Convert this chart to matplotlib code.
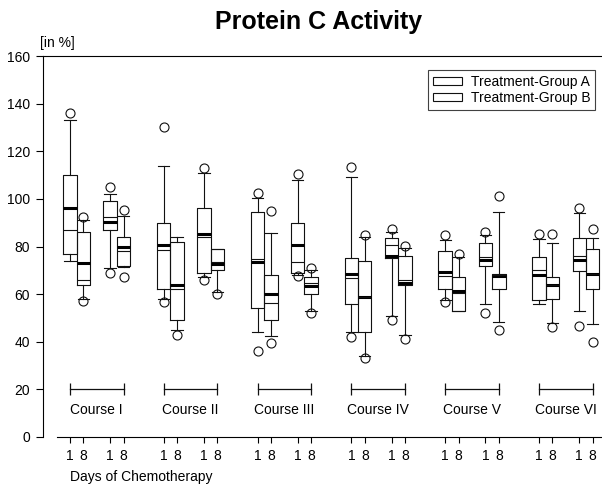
import numpy as np
import matplotlib
matplotlib.use('Agg')
import matplotlib.pyplot as plt
from matplotlib.patches import Patch

plt.rcParams['font.family'] = ['Liberation Sans', 'DejaVu Sans']

# course / day labels
courses = ['Course I', 'Course II', 'Course III', 'Course IV', 'Course V', 'Course VI']
day_labels = ['1', '8', '1', '8']
groups = ['Treatment-Group A', 'Treatment-Group B']

# box statistics, order per course: A day1, A day8, B day1, B day8
whislo = [74, 58, 71, 71.5,   58, 45, 67, 61,     44, 42.5, 68, 53,
          44, 34, 51, 43,     57.5, 53, 56, 48.4, 56, 48, 53, 47.3]
q1 = [77, 64, 87, 72,         62, 49, 69, 70,     54, 49, 69, 60,
      56, 44, 75, 64,         62, 53, 72, 62,     57.5, 58, 69.7, 62]
means = [87, 66, 92.5, 78,    78.4, 62, 84, 73.6, 74.6, 56.4, 73.6, 64.5,
         66.6, 59, 80.6, 66,  67.6, 60.3, 75.5, 68, 70, 64, 76, 68.3]
medians = [96, 73, 90.3, 79.7, 80.5, 64, 85.3, 72.7, 73.6, 60, 80.5, 63.5,
           68.5, 59, 76, 64.5, 69.4, 61.3, 74.3, 67.6, 68, 63.8, 74.3, 68.3]
q3 = [110, 86, 99, 84,        90, 82, 96, 79,     94.6, 68, 90, 67,
      75, 74, 83.7, 76,       78.3, 67.3, 81.3, 68.3, 75.5, 67, 83.7, 78.8]
whishi = [133, 91, 102, 93,   114, 84, 111, 79,   100.5, 85.5, 108, 70,
          109, 84, 86, 79.5,  82.7, 75.5, 85, 94.5, 83, 81.5, 94.2, 83.7]
flier_lo = [None, 57, 69, 67,  56.5, 43, 66, 60,  36, 39.6, 67.6, 52.2,
            42, 33, 49, 41,    56.8, None, 52, 45, None, 46.3, 46.5, 40]
flier_hi = [136, 92.5, 105, 95.5, 130, None, 113, None, 102.3, 95, 110.3, 71,
            113.5, 85, 87.4, 80.4, 84.8, 76.7, 86.2, 101, 85.3, 85.3, 96, 87.2]

offsets = [0, 1, 3, 4]
positions = [7 * k + o for k in range(len(courses)) for o in offsets]

stats = []
for i in range(len(positions)):
    fl = [v for v in (flier_lo[i], flier_hi[i]) if v is not None]
    stats.append(dict(whislo=whislo[i], q1=q1[i], mean=means[i], med=medians[i],
                      q3=q3[i], whishi=whishi[i], fliers=fl))

fig = plt.figure(figsize=(6.02, 4.93), dpi=100)
ax = fig.add_axes([43 / 602, 56 / 493, 1 - 43 / 602, 381 / 493])

lc = '#111111'
ax.bxp(stats, positions=positions, widths=1.0, showmeans=True, meanline=True,
       boxprops=dict(color=lc, lw=0.8),
       whiskerprops=dict(color=lc, lw=0.8),
       capprops=dict(color=lc, lw=0.8),
       capwidths=0.85,
       medianprops=dict(color='black', lw=2.2),
       meanprops=dict(color=lc, lw=0.8, linestyle='-'),
       flierprops=dict(marker='o', markersize=6.5, markerfacecolor='none',
                       markeredgecolor=lc, markeredgewidth=0.8))

# course brackets and labels
for k, name in enumerate(courses):
    x0, x1 = 7 * k, 7 * k + 4
    ax.plot([x0, x1], [20, 20], color=lc, lw=0.9)
    ax.vlines([x0, x1], 17.5, 22.5, color=lc, lw=0.9)
    ax.text(7 * k + 2, 11.5, name, ha='center', va='center', fontsize=10)

ax.set_xlim(-2.01, 39.7)
ax.set_ylim(0, 160)
ax.set_yticks(np.arange(0, 161, 20))
ax.set_xticks(positions)
ax.set_xticklabels(day_labels * len(courses))
ax.tick_params(axis='y', direction='out', length=5, width=0.8, pad=4.5, labelsize=10)
ax.tick_params(axis='x', direction='out', length=4.3, width=0.8, pad=4, labelsize=10)

ax.spines['right'].set_visible(False)
for s in ['top', 'left', 'bottom']:
    ax.spines[s].set_linewidth(0.8)
ax.spines['bottom'].set_bounds(-1.0, 39.7)

handles = [Patch(facecolor='white', edgecolor=lc, lw=0.8, label=g) for g in groups]
leg = ax.legend(handles=handles, loc='upper right', bbox_to_anchor=(595 / 602, 1 - 70 / 493),
                bbox_transform=fig.transFigure, borderaxespad=0, fancybox=False,
                edgecolor=lc, fontsize=10, handlelength=2.1, handleheight=0.55,
                handletextpad=0.6, labelspacing=0.15, borderpad=0.35)
leg.get_frame().set_linewidth(0.8)

fig.text(318.5 / 602, 1 - 22 / 493, 'Protein C Activity', ha='center', va='center',
         fontsize=18, fontweight='bold')
fig.text(57 / 602, 1 - 43 / 493, '[in %]', ha='center', va='center', fontsize=10)
fig.text(70 / 602, 1 - 477 / 493, 'Days of Chemotherapy', ha='left', va='center', fontsize=10)

fig.savefig('out.png', dpi=100)
